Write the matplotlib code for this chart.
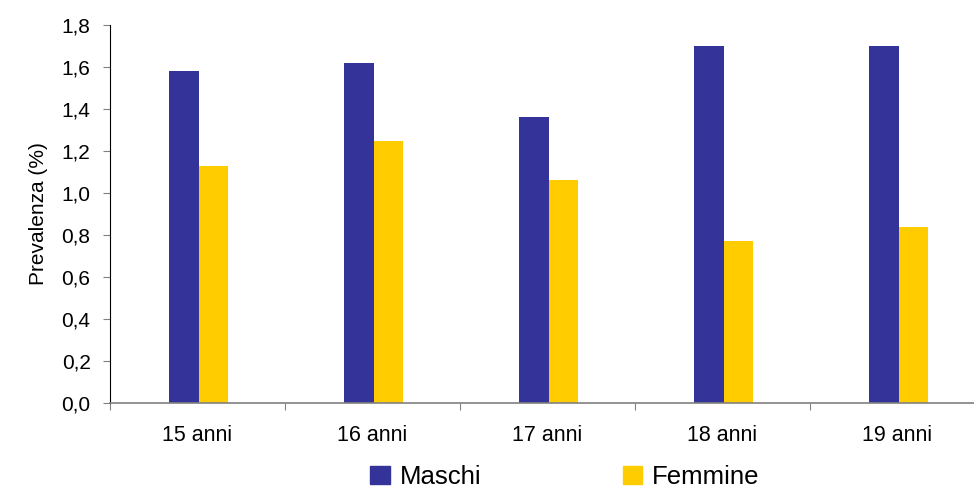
import numpy as np
import matplotlib.pyplot as plt
from matplotlib.patches import Patch

plt.rcParams['font.family'] = ['Liberation Sans', 'DejaVu Sans']

categorie = ['15 anni', '16 anni', '17 anni', '18 anni', '19 anni']
maschi = [1.58, 1.62, 1.36, 1.70, 1.70]
femmine = [1.13, 1.25, 1.06, 0.77, 0.84]
col_m = '#333399'
col_f = '#FFCC00'

fig = plt.figure(figsize=(9.74, 4.93), dpi=100)
ax = fig.add_axes([110 / 974, 90 / 493, 875 / 974, 378 / 493])

x = np.arange(len(categorie))
w = 0.171
ax.bar(x - w / 2 + 0.006, maschi, w, color=col_m, label='Maschi')
ax.bar(x + w / 2 + 0.006, femmine, w, color=col_f, label='Femmine')

ax.set_xlim(-0.5, len(categorie) - 0.5)
ax.set_ylim(0, 1.8)
yt = np.arange(0, 1.81, 0.2)
ax.set_yticks(yt)
ax.set_yticklabels([f'{v:.1f}'.replace('.', ',') for v in yt])
ax.set_xticks(np.arange(-0.5, len(categorie), 1))
ax.set_xticklabels([])
ax.set_xticks(x, minor=True)
ax.set_xticklabels(categorie, minor=True)
ax.tick_params(axis='x', which='major', direction='out', length=5, color='#808080')
ax.tick_params(axis='x', which='minor', length=0, pad=16, labelsize=15.5)
ax.tick_params(axis='y', direction='out', length=5, pad=9, labelsize=15, color='#808080')

for s in ['top', 'right']:
    ax.spines[s].set_visible(False)
ax.spines['left'].set_color('black')
ax.spines['bottom'].set_color('#808080')
ax.spines['bottom'].set_linewidth(1.2)

ax.set_ylabel('Prevalenza (%)', fontsize=15, labelpad=10)

handles = [Patch(color=col_m), Patch(color=col_f)]
fig.legend(handles, ['Maschi', 'Femmine'], loc='center', ncol=2,
           bbox_to_anchor=(565 / 974, 16 / 493), frameon=False, fontsize=18.5,
           handlelength=0.75, handleheight=0.75, handletextpad=0.4, columnspacing=5.5)

fig.savefig('out.png', dpi=100)
